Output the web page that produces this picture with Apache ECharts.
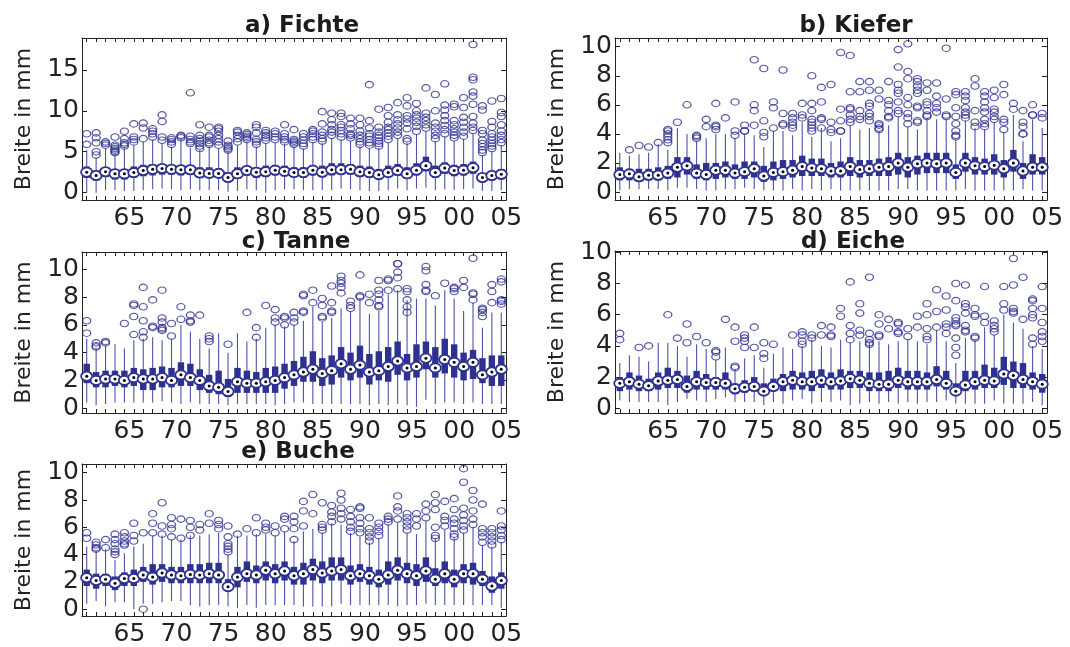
<!DOCTYPE html>
<html>
<head>
<meta charset="utf-8">
<script src="https://cdn.jsdelivr.net/npm/echarts@6/dist/echarts.min.js"></script>
<style>
  html, body { margin: 0; padding: 0; background: #fff; }
  #chart { width: 1070px; height: 647px; }
</style>
</head>
<body>
<div id="chart"></div>
<script>
// years on the x axis
const years = [1961, 1962, 1963, 1964, 1965, 1966, 1967, 1968, 1969, 1970,
  1971, 1972, 1973, 1974, 1975, 1976, 1977, 1978, 1979, 1980,
  1981, 1982, 1983, 1984, 1985, 1986, 1987, 1988, 1989, 1990,
  1991, 1992, 1993, 1994, 1995, 1996, 1997, 1998, 1999, 2000,
  2001, 2002, 2003, 2004, 2005];
const yearLabels = [1965, 1970, 1975, 1980, 1985, 1990, 1995, 2000, 2005];
const fichteTicks = [0, 5, 10, 15];
const otherTicks = [0, 2, 4, 6, 8, 10];

// box rows: [lower whisker, Q1, median, Q3, upper whisker]
const fichteBox = [
  [0.0, 1.8, 2.5, 3.2, 5.2], [0.0, 1.5, 2.1, 2.7, 4.3], [0.3, 1.9, 2.55, 3.1, 5.4], [0.3, 1.6, 2.3, 2.9, 4.7], [0.2, 1.6, 2.3, 2.9, 5.4],
  [0.2, 1.8, 2.45, 3.2, 5.8], [0.3, 2.0, 2.7, 3.4, 6.2], [0.4, 2.1, 2.85, 3.5, 6.5], [0.5, 2.2, 2.95, 3.4, 6.0], [0.4, 2.2, 2.85, 3.4, 5.6],
  [0.3, 2.1, 2.8, 3.4, 6.4], [0.4, 2.2, 2.8, 3.4, 5.5], [0.3, 1.8, 2.4, 3.1, 5.2], [0.3, 1.8, 2.35, 3.1, 5.6], [0.3, 1.8, 2.35, 3.0, 5.4],
  [0.1, 1.3, 1.85, 2.5, 5.0], [0.2, 1.7, 2.3, 3.1, 5.8], [0.4, 2.1, 2.7, 3.3, 6.2], [0.3, 1.8, 2.5, 3.1, 5.6], [0.0, 1.9, 2.55, 3.3, 6.0],
  [0.3, 2.1, 2.75, 3.4, 6.1], [0.4, 2.0, 2.6, 3.3, 6.0], [0.4, 1.9, 2.45, 3.1, 5.6], [0.3, 1.8, 2.45, 3.1, 5.4], [0.3, 2.1, 2.75, 3.4, 6.2],
  [0.3, 1.9, 2.5, 3.3, 6.0], [0.3, 2.1, 2.8, 3.6, 6.6], [0.5, 2.2, 2.8, 3.6, 6.5], [0.4, 2.2, 2.85, 3.5, 6.3], [0.3, 1.9, 2.55, 3.3, 5.6],
  [0.2, 1.8, 2.45, 3.2, 5.4], [0.2, 1.6, 2.2, 2.9, 5.4], [0.3, 1.9, 2.45, 3.3, 6.1], [0.5, 2.1, 2.7, 3.5, 6.6], [0.3, 1.7, 2.3, 3.1, 6.0],
  [0.5, 2.1, 2.75, 3.6, 7.1], [0.6, 2.6, 3.3, 4.4, 7.5], [0.3, 1.8, 2.45, 3.3, 6.3], [0.4, 2.3, 3.0, 3.7, 6.9], [0.3, 2.0, 2.7, 3.4, 6.3],
  [0.4, 2.1, 2.75, 3.5, 6.6], [0.5, 2.3, 3.05, 3.8, 7.2], [0.2, 1.3, 1.85, 2.4, 4.6], [0.2, 1.5, 2.1, 2.7, 5.1], [0.3, 1.6, 2.25, 2.9, 5.8]
];
const fichteOut = [
  [5.9, 7.2], [4.6, 5.0, 6.1, 6.7, 7.3], [5.8, 6.0, 6.2], [4.9, 5.0, 5.2, 5.4, 5.6, 5.8, 6.8], [5.7, 5.9, 6.1, 6.6, 7.5],
  [6.2, 6.5, 6.8, 8.4], [6.6, 7.9, 8.5], [6.8, 7.2, 7.5, 7.8], [6.4, 6.8, 8.7, 9.5], [5.9, 6.2, 6.5, 6.7],
  [6.7, 6.9, 7.0], [6.0, 6.2, 6.5, 6.9, 12.2], [5.4, 5.7, 6.0, 6.3, 6.6, 7.0, 8.3], [5.9, 6.1, 6.4, 6.8, 7.0, 8.0], [5.8, 6.2, 6.6, 7.0, 7.5, 7.8, 8.0],
  [5.2, 5.4, 5.6, 5.8, 6.3], [6.2, 6.6, 7.0, 7.4, 7.6], [6.5, 6.7, 6.9, 7.1, 7.3], [5.9, 6.2, 6.5, 7.3, 8.0, 8.3], [6.4, 6.7, 7.0, 7.3, 7.6],
  [6.5, 6.8, 7.2, 7.5], [6.2, 6.5, 6.8, 7.2, 8.3], [5.9, 6.1, 6.3, 6.5, 7.7], [5.7, 6.0, 6.4, 6.8, 7.2], [6.5, 6.8, 7.2, 7.5, 7.7],
  [6.3, 6.6, 7.0, 7.4, 8.4, 9.9], [7.0, 7.4, 7.7, 8.3, 8.9, 9.7], [6.8, 7.2, 7.6, 8.0, 8.3, 9.3, 9.7], [6.7, 7.0, 7.2, 7.8, 8.4, 9.1], [5.9, 6.2, 6.6, 7.0, 7.5, 8.3, 9.1],
  [5.8, 6.1, 6.5, 6.9, 7.2, 7.9, 8.8, 13.2], [5.7, 6.0, 6.3, 6.7, 7.0, 7.4, 8.0, 10.2], [6.5, 6.9, 7.3, 7.7, 8.0, 8.6, 9.4, 10.4], [7.0, 7.4, 7.9, 8.4, 8.9, 9.5, 11.0], [6.3, 6.6, 7.8, 8.5, 9.0, 9.4, 10.6, 11.6],
  [7.5, 8.1, 8.6, 9.1, 9.5, 10.0, 10.9], [7.9, 8.3, 8.8, 9.2, 9.7, 12.8], [6.6, 7.0, 7.5, 8.0, 8.5, 10.0, 12.0], [7.2, 7.7, 8.2, 8.8, 9.4, 10.1, 10.7, 13.3], [6.7, 7.0, 7.4, 7.8, 8.3, 8.8, 10.5, 10.8],
  [6.9, 7.4, 8.0, 8.6, 9.2, 10.4, 11.6], [7.6, 8.0, 8.5, 9.3, 10.8, 11.8, 12.3, 13.8, 14.1, 18.1], [4.9, 5.2, 5.6, 6.0, 6.4, 7.2, 7.6, 10.1, 10.6], [5.4, 5.7, 6.0, 6.4, 6.8, 7.2, 8.0, 8.7, 11.2], [6.1, 6.5, 7.0, 7.5, 8.3, 9.3, 9.8, 11.5]
];

const kieferBox = [
  [0.1, 0.8, 1.2, 1.7, 2.7], [0.2, 0.8, 1.25, 1.6, 2.5], [0.2, 0.7, 1.05, 1.6, 2.6], [0.2, 0.8, 1.15, 1.6, 2.7], [0.2, 0.8, 1.15, 1.7, 3.3],
  [0.1, 0.9, 1.3, 1.8, 2.9], [0.3, 1.0, 1.7, 2.4, 4.4], [0.3, 1.2, 1.8, 2.4, 4.0], [0.2, 0.9, 1.3, 1.9, 3.5], [0.1, 0.8, 1.2, 2.0, 3.7],
  [0.1, 0.9, 1.5, 2.0, 4.0], [0.2, 1.0, 1.5, 2.1, 4.0], [0.2, 0.9, 1.3, 1.9, 3.7], [0.3, 0.9, 1.4, 2.1, 4.0], [0.2, 1.0, 1.6, 2.1, 3.9],
  [0.1, 0.7, 1.1, 1.8, 3.1], [0.1, 0.8, 1.35, 2.1, 4.2], [0.1, 0.9, 1.4, 2.2, 4.2], [0.2, 1.0, 1.5, 2.2, 3.9], [0.1, 1.1, 1.75, 2.5, 4.8],
  [0.2, 1.1, 1.65, 2.3, 3.8], [0.1, 1.1, 1.6, 2.3, 4.4], [0.2, 1.0, 1.45, 2.0, 3.5], [0.1, 1.0, 1.45, 2.1, 3.7], [0.1, 1.1, 1.75, 2.4, 4.6],
  [0.1, 1.0, 1.55, 2.2, 4.3], [0.1, 1.1, 1.6, 2.2, 4.4], [0.1, 1.1, 1.7, 2.3, 4.2], [0.1, 1.1, 1.75, 2.4, 4.6], [0.2, 1.2, 2.0, 2.7, 5.2],
  [0.2, 1.0, 1.7, 2.4, 4.5], [0.1, 1.2, 1.95, 2.5, 4.3], [0.1, 1.3, 2.0, 2.7, 5.1], [0.1, 1.3, 1.95, 2.7, 5.0], [0.1, 1.3, 2.0, 2.7, 5.0],
  [0.1, 0.9, 1.35, 1.9, 3.6], [0.2, 1.4, 2.0, 2.7, 4.9], [0.1, 1.2, 1.8, 2.4, 4.4], [0.1, 1.2, 1.75, 2.3, 4.3], [0.1, 1.2, 1.85, 2.6, 4.8],
  [0.1, 1.0, 1.6, 2.2, 4.1], [0.1, 1.4, 2.0, 2.9, 5.3], [0.2, 0.9, 1.45, 2.0, 3.5], [0.1, 1.2, 1.7, 2.6, 5.0], [0.1, 1.2, 1.7, 2.4, 4.4]
];
const kieferOut = [
  [], [2.9], [3.2], [3.1], [3.4],
  [3.4, 3.6, 3.8, 4.0, 4.2, 4.3], [4.8], [6.0], [3.7, 3.8, 3.9], [4.5, 5.0],
  [4.3, 4.5, 4.6, 6.1], [5.1], [3.9, 4.2, 6.2], [4.2, 4.2, 4.6], [4.6, 5.6, 6.0, 9.1],
  [3.8, 4.1, 4.9, 8.5], [4.4, 5.8, 6.2], [4.6, 4.7, 5.4, 8.4], [4.4, 4.6, 4.8, 5.1, 5.4], [5.1, 5.3, 6.1],
  [4.2, 4.4, 4.6, 4.8, 5.0, 5.6, 6.1, 8.0], [4.4, 5.0, 5.1, 6.2, 7.2], [4.1, 4.3, 4.8, 7.4], [4.2, 4.2, 4.9, 5.7, 9.6], [4.8, 5.0, 5.3, 5.7, 5.8, 6.9, 9.4],
  [5.0, 5.2, 5.6, 6.9, 7.6], [4.9, 5.2, 5.4, 5.9, 6.1, 7.0, 7.6], [4.3, 4.4, 4.6, 4.7, 6.4, 7.0], [5.1, 5.2, 5.6, 6.0, 6.3, 7.6], [5.4, 5.6, 6.2, 6.8, 7.0, 7.4, 8.6, 9.8],
  [4.7, 5.1, 5.4, 6.0, 6.5, 7.8, 8.3, 10.2], [4.8, 4.9, 5.8, 5.9, 6.8, 7.0, 7.3, 7.6, 7.8], [5.2, 5.3, 5.6, 6.0, 6.2, 7.0, 7.5], [5.5, 5.8, 6.1, 6.6, 7.5], [5.2, 5.3, 6.4, 9.9],
  [3.8, 3.9, 4.2, 4.7, 5.2, 5.8, 6.7, 6.9], [5.1, 5.3, 5.5, 5.8, 6.3, 6.6, 6.9], [4.5, 4.8, 5.6, 7.3, 7.8], [4.5, 4.7, 5.0, 5.5, 5.8, 6.2, 6.6, 6.9], [5.0, 5.2, 5.5, 5.7, 6.5, 7.0],
  [4.3, 4.8, 5.0, 6.7, 7.4], [5.7, 6.1], [4.0, 4.0, 4.5, 4.8, 5.6], [5.3, 5.3, 6.0], [5.1, 5.4]
];

const tanneBox = [
  [0.4, 1.8, 2.3, 3.2, 5.0], [0.2, 1.5, 2.0, 2.6, 4.3], [0.3, 1.5, 2.1, 2.7, 4.5], [0.4, 1.6, 2.1, 2.7, 4.6], [0.4, 1.5, 2.0, 2.7, 4.3],
  [0.4, 1.6, 2.2, 2.9, 4.9], [0.4, 1.3, 2.1, 2.8, 5.0], [0.4, 1.3, 2.1, 2.9, 5.1], [0.5, 1.5, 2.2, 3.0, 4.9], [0.4, 1.5, 2.0, 2.9, 5.0],
  [0.3, 1.6, 2.4, 3.3, 6.0], [0.4, 1.6, 2.2, 3.2, 5.5], [0.3, 1.3, 2.0, 2.8, 5.0], [0.3, 1.1, 1.6, 2.4, 4.3], [0.3, 1.0, 1.5, 2.7, 5.4],
  [0.2, 0.8, 1.2, 2.1, 4.0], [0.3, 1.1, 1.9, 2.9, 5.4], [0.3, 1.1, 1.8, 2.7, 4.8], [0.3, 1.1, 1.8, 2.6, 5.0], [0.3, 1.1, 1.9, 2.9, 5.8],
  [0.2, 1.1, 2.0, 3.0, 6.0], [0.3, 1.4, 2.2, 3.2, 5.9], [0.4, 1.6, 2.4, 3.4, 6.0], [0.4, 1.9, 2.6, 3.7, 6.3], [0.3, 1.9, 2.8, 4.1, 7.3],
  [0.3, 1.6, 2.5, 3.6, 6.2], [0.3, 1.7, 2.7, 3.8, 6.5], [0.3, 2.2, 3.2, 4.4, 7.2], [0.3, 2.0, 2.8, 4.0, 7.0], [0.3, 2.2, 3.1, 4.5, 7.9],
  [0.2, 1.7, 2.6, 3.9, 6.8], [0.3, 2.0, 2.7, 4.1, 7.0], [0.2, 1.9, 3.0, 4.4, 8.2], [0.3, 2.4, 3.4, 4.8, 8.5], [0.2, 2.0, 2.9, 3.9, 7.8],
  [0.1, 2.2, 3.0, 4.6, 7.9], [0.6, 2.8, 3.6, 4.8, 7.9], [0.3, 2.2, 2.9, 4.4, 7.4], [0.4, 2.5, 3.5, 5.0, 8.5], [0.4, 2.2, 3.3, 4.6, 7.9],
  [0.3, 2.0, 3.0, 4.0, 7.0], [0.4, 2.1, 3.3, 4.2, 7.6], [0.3, 1.8, 2.4, 3.6, 5.8], [0.3, 1.6, 2.6, 3.8, 6.9], [0.3, 1.6, 2.8, 3.8, 6.9]
];
const tanneOut = [
  [5.4, 6.3], [4.4, 4.5, 4.7], [4.7, 4.8], [], [6.1],
  [5.3, 6.6, 7.4, 7.5], [5.1, 5.5, 6.3, 7.3, 8.7], [5.8, 5.9, 7.8], [5.6, 5.7, 5.8, 6.2, 6.5, 8.5], [5.2, 6.1],
  [6.4, 7.3], [6.2, 6.3, 6.7], [6.7], [4.8, 5.0, 5.2], [],
  [4.6], [], [6.9], [5.1, 5.8], [7.4],
  [6.2, 6.5, 7.1], [6.0, 6.5, 6.6], [6.2, 6.5, 6.9], [6.9, 7.0, 8.1, 8.2], [7.6, 8.5],
  [6.5, 6.6, 7.4, 7.9], [6.9, 7.0, 7.6, 8.8], [8.3, 8.7, 9.0, 9.2, 9.5], [7.2, 7.4, 7.7], [8.0, 8.1, 9.6],
  [7.6, 8.2], [7.3, 7.4, 7.8, 8.2, 8.5, 9.2], [8.5, 9.2, 9.3], [8.6, 9.4, 9.8, 10.4, 10.4], [6.9, 7.3, 7.8, 8.4, 8.6],
  [], [8.4, 8.5, 8.9, 9.9, 10.2], [8.1], [9.0], [8.4, 8.6, 8.7],
  [8.7, 9.2], [7.8, 8.2, 8.3, 10.8], [6.6, 6.9, 7.1, 7.2], [7.6, 8.4, 8.9], [7.5, 7.7, 7.8, 9.1, 9.3]
];

const eicheBox = [
  [0.5, 1.1, 1.6, 2.0, 2.9], [0.4, 1.2, 1.7, 2.3, 3.4], [0.4, 1.1, 1.55, 2.1, 3.3], [0.4, 1.1, 1.45, 1.9, 3.0], [0.4, 1.2, 1.75, 2.3, 4.2],
  [0.2, 1.3, 1.8, 2.6, 4.2], [0.4, 1.3, 1.85, 2.4, 4.0], [0.6, 1.0, 1.4, 2.1, 3.3], [0.5, 1.2, 1.7, 2.4, 4.1], [0.4, 1.2, 1.65, 2.2, 3.8],
  [0.6, 1.2, 1.65, 2.0, 3.1], [0.7, 1.2, 1.6, 2.3, 3.9], [0.4, 0.9, 1.25, 1.6, 2.5], [0.4, 1.0, 1.35, 1.8, 3.2], [0.4, 1.1, 1.4, 2.0, 3.4],
  [0.2, 0.9, 1.1, 1.6, 2.6], [0.4, 1.1, 1.4, 1.9, 3.5], [0.3, 1.1, 1.7, 2.2, 3.9], [0.5, 1.2, 1.8, 2.4, 3.8], [0.6, 1.2, 1.7, 2.3, 4.0],
  [0.3, 1.1, 1.7, 2.4, 4.4], [0.4, 1.3, 1.8, 2.5, 4.0], [0.4, 1.2, 1.7, 2.3, 3.9], [0.5, 1.2, 1.75, 2.5, 4.4], [0.2, 1.3, 1.9, 2.4, 4.2],
  [0.3, 1.3, 1.8, 2.4, 4.3], [0.4, 1.1, 1.6, 2.3, 4.2], [0.3, 1.1, 1.55, 2.3, 4.3], [0.4, 1.1, 1.55, 2.4, 4.1], [0.3, 1.3, 1.8, 2.6, 4.3],
  [0.4, 1.2, 1.7, 2.4, 4.4], [0.3, 1.2, 1.7, 2.4, 4.3], [0.4, 1.2, 1.7, 2.3, 4.1], [0.4, 1.4, 1.85, 2.7, 5.0], [0.5, 1.2, 1.6, 2.4, 4.3],
  [0.3, 0.8, 1.1, 1.6, 2.9], [0.3, 1.1, 1.5, 2.4, 4.5], [0.3, 1.2, 1.7, 2.4, 4.4], [0.3, 1.3, 1.8, 2.8, 5.2], [0.5, 1.3, 1.75, 2.6, 4.7],
  [0.3, 1.5, 2.2, 3.3, 6.0], [0.3, 1.3, 2.1, 3.0, 5.5], [0.3, 1.3, 1.85, 2.9, 5.1], [0.4, 1.2, 1.7, 2.3, 4.0], [0.2, 1.0, 1.55, 2.2, 3.8]
];
const eicheOut = [
  [4.4, 4.8], [], [3.9], [4.0], [],
  [6.0], [4.5], [4.2, 5.4], [4.6], [4.2],
  [3.3, 3.6, 3.7], [5.7], [2.6, 2.7, 4.3, 5.2], [3.9, 4.3, 4.5, 4.7], [3.9, 5.2],
  [3.2, 3.5, 4.2], [4.1], [], [4.7], [4.1, 4.3, 4.7, 4.9],
  [4.5, 4.7], [4.7, 5.3], [4.6, 4.7, 5.2], [5.9, 6.4], [4.4, 4.8, 5.3, 8.1],
  [4.7, 5.0, 6.1, 6.7], [4.1, 4.2, 4.4, 4.8, 8.4], [4.6, 4.7, 5.4, 6.0], [5.1, 5.7], [4.8, 4.9, 5.4, 5.5],
  [4.6, 5.1], [5.2, 5.9], [4.4, 4.6, 5.1, 6.0, 6.7], [5.2, 6.2, 7.6], [4.8, 5.2, 5.4, 6.3, 7.2],
  [3.4, 3.9, 4.5, 5.3, 5.4, 5.6, 5.8, 6.9, 8.0], [4.9, 5.0, 5.3, 6.1, 6.5, 6.7, 7.9], [4.5, 4.6, 5.9, 6.0, 6.4], [5.5, 5.9, 7.8], [4.9, 5.1, 5.3, 5.6],
  [6.3, 6.7, 7.8], [6.1, 6.2, 6.4, 7.9, 9.6], [5.7, 8.4], [4.1, 4.5, 5.8, 6.0, 6.4, 6.9, 7.0], [4.3, 4.6, 4.9, 5.5, 6.4, 7.8]
];

const bucheBox = [
  [0.4, 1.7, 2.3, 2.9, 4.6], [0.6, 1.5, 2.1, 2.6, 4.3], [0.2, 1.7, 2.2, 2.6, 4.4], [0.5, 1.4, 1.9, 2.4, 3.6], [0.5, 1.7, 2.25, 2.7, 4.1],
  [0.0, 1.7, 2.25, 2.9, 4.6], [0.4, 2.0, 2.5, 3.1, 4.8], [0.4, 1.8, 2.35, 3.3, 5.4], [0.5, 2.0, 2.65, 3.3, 5.4], [0.6, 1.9, 2.5, 3.1, 5.1],
  [0.6, 1.9, 2.45, 3.1, 5.1], [0.3, 1.9, 2.55, 3.3, 5.4], [0.2, 1.9, 2.5, 3.3, 5.4], [0.3, 1.9, 2.6, 3.4, 5.5], [0.3, 1.9, 2.5, 3.4, 5.6],
  [0.2, 1.3, 1.65, 2.2, 4.0], [0.1, 1.6, 2.35, 3.1, 5.4], [0.3, 2.0, 2.6, 3.5, 5.4], [0.1, 1.9, 2.5, 3.2, 5.5], [0.3, 2.1, 2.85, 3.5, 5.5],
  [0.3, 1.9, 2.6, 3.3, 5.4], [0.3, 2.1, 2.8, 3.5, 5.7], [0.3, 1.8, 2.45, 3.1, 5.0], [0.2, 1.8, 2.6, 3.4, 5.7], [0.2, 2.1, 2.9, 3.7, 5.9],
  [0.2, 1.9, 2.65, 3.5, 5.6], [0.2, 2.1, 2.8, 3.8, 6.3], [0.4, 2.1, 2.9, 3.8, 6.2], [0.3, 1.8, 2.45, 3.2, 5.6], [0.3, 2.0, 2.6, 3.3, 5.3],
  [0.3, 1.8, 2.45, 3.1, 4.9], [0.3, 1.6, 2.2, 2.9, 5.2], [0.3, 1.8, 2.5, 3.5, 6.2], [0.2, 2.1, 2.85, 3.8, 6.3], [0.3, 1.9, 2.6, 3.4, 5.6],
  [0.3, 1.7, 2.45, 3.3, 5.5], [0.4, 2.0, 2.8, 3.8, 6.5], [0.3, 1.7, 2.2, 3.0, 5.2], [0.3, 1.9, 2.6, 3.5, 5.8], [0.3, 1.6, 2.2, 2.9, 5.2],
  [0.3, 1.9, 2.6, 3.3, 5.6], [0.3, 1.8, 2.6, 3.4, 6.0], [0.3, 1.7, 2.2, 2.8, 4.7], [0.3, 1.2, 1.7, 2.4, 4.6], [0.1, 1.5, 2.1, 2.7, 4.9]
];
const bucheOut = [
  [5.2, 5.6], [4.4, 4.5, 4.7, 4.9], [4.5, 5.1], [4.0, 4.2, 4.4, 4.8, 5.1, 5.5], [4.7, 4.8, 5.0, 5.3, 5.6],
  [5.0, 5.4, 6.3], [0.0, 5.6], [5.6, 6.3, 7.0], [5.5, 6.1, 7.8], [5.3, 5.9, 6.2, 6.7],
  [5.2, 6.6], [5.4, 6.0, 6.5], [5.8, 6.2], [6.3, 7.0], [5.9, 6.2, 6.5],
  [4.2, 4.4, 4.6, 4.8, 5.3, 6.1], [5.5], [5.9], [5.6, 6.7], [5.8, 6.0, 6.3],
  [5.6, 6.1], [5.9, 6.6, 6.8], [5.1, 5.9, 6.4, 6.8], [6.1, 7.2, 7.9], [7.0, 8.4],
  [5.8, 6.0, 6.2, 7.8], [6.4, 6.8, 7.1, 7.6], [6.6, 7.0, 7.4, 8.0, 8.5], [5.7, 6.0, 6.4, 6.8, 7.3], [5.6, 5.9, 6.3, 6.7, 7.4, 7.5],
  [5.0, 5.3, 5.6, 5.9, 6.7], [5.4, 5.7, 6.0, 6.3], [6.4, 6.6, 6.8], [6.6, 7.2, 7.5, 8.3], [5.8, 6.1, 6.4, 6.7, 7.0],
  [6.1, 6.6, 7.0], [6.7, 7.2, 7.7], [5.2, 5.4, 6.0, 7.3, 7.8, 8.4], [6.1, 6.5, 6.8, 7.9], [5.3, 5.5, 5.9, 6.3, 6.6, 7.3, 8.1],
  [5.8, 6.1, 6.5, 6.9, 7.4, 9.3, 10.3], [6.2, 6.6, 7.2, 8.0, 8.7], [4.9, 5.3, 5.6, 5.9, 7.7], [4.7, 5.0, 5.3, 5.6, 5.9], [5.1, 5.4, 5.8, 6.1, 7.2]
];

const navy = "#2d3190";
const whisker = "#4d52aa";
const font = "DejaVu Sans";

const panels = [
  { title: "a) Fichte", box: fichteBox, out: fichteOut, ticks: fichteTicks, min: -0.9, max: 18.9,
    grid: { left: 82, top: 38, width: 424, height: 162 }, titleX: 297, titleY: 10 },
  { title: "b) Kiefer", box: kieferBox, out: kieferOut, ticks: otherTicks, min: -0.55, max: 10.6,
    grid: { left: 615, top: 38, width: 432, height: 162 }, titleX: 851, titleY: 10 },
  { title: "c) Tanne", box: tanneBox, out: tanneOut, ticks: otherTicks, min: -0.35, max: 11.25,
    grid: { left: 82, top: 252, width: 424, height: 161 }, titleX: 291, titleY: 226 },
  { title: "d) Eiche", box: eicheBox, out: eicheOut, ticks: otherTicks, min: -0.3, max: 10.08,
    grid: { left: 615, top: 251, width: 432, height: 162 }, titleX: 848, titleY: 226 },
  { title: "e) Buche", box: bucheBox, out: bucheOut, ticks: otherTicks, min: -0.5, max: 10.64,
    grid: { left: 82, top: 464, width: 424, height: 161 }, titleX: 293, titleY: 436 }
];

function renderBox(params, api) {
  const x = api.coord([api.value(0), 0])[0];
  const y = (i) => api.coord([api.value(0), api.value(i)])[1];
  const lo = y(1), q1 = y(2), med = y(3), q3 = y(4), hi = y(5);
  return {
    type: "group",
    children: [
      { type: "line", shape: { x1: x, y1: lo, x2: x, y2: hi }, style: { stroke: whisker, lineWidth: 1.1 } },
      { type: "rect", shape: { x: x - 3.2, y: q3, width: 6.4, height: q1 - q3 }, style: { fill: navy } },
      { type: "ellipse", shape: { cx: x, cy: med, rx: 5.6, ry: 4.6 }, style: { fill: "#fff", stroke: navy, lineWidth: 1.8 } },
      { type: "circle", shape: { cx: x, cy: med, r: 1.5 }, style: { fill: "#000" } }
    ]
  };
}

const grids = [], xAxes = [], yAxes = [], series = [], titles = [];
panels.forEach((p, i) => {
  grids.push(p.grid);
  titles.push({
    text: p.title, left: p.titleX, top: p.titleY, textAlign: "center",
    textStyle: { fontFamily: font, fontSize: 23, fontWeight: "bold", color: "#1c1c1c" }
  });
  const xBase = {
    type: "value", gridIndex: i, min: 1960.5, max: 2005.5,
    splitLine: { show: false },
    axisLine: { show: true, onZero: false, lineStyle: { color: "#222", width: 1 } },
    axisTick: { show: true, inside: true, length: 4, customValues: years, lineStyle: { color: "#222" } }
  };
  xAxes.push(Object.assign({}, xBase, {
    position: "bottom",
    axisLabel: {
      customValues: yearLabels, margin: 6, fontFamily: font, fontSize: 25, color: "#222",
      padding: [0, 0, 0, 10],
      formatter: (v) => String(v % 100).padStart(2, "0")
    }
  }));
  xAxes.push(Object.assign({}, xBase, { position: "top", axisLabel: { show: false } }));
  const yBase = {
    type: "value", gridIndex: i, min: p.min, max: p.max,
    splitLine: { show: false },
    axisLine: { show: true, onZero: false, lineStyle: { color: "#222", width: 1 } },
    axisTick: { show: true, inside: true, length: 5, customValues: p.ticks, lineStyle: { color: "#222" } }
  };
  yAxes.push(Object.assign({}, yBase, {
    position: "left",
    name: "Breite in mm", nameLocation: "middle", nameGap: 47, nameRotate: 90,
    nameTextStyle: { fontFamily: font, fontSize: 22, color: "#222" },
    axisLabel: { customValues: p.ticks, margin: 3, fontFamily: font, fontSize: 25, color: "#222" }
  }));
  yAxes.push(Object.assign({}, yBase, { position: "right", axisLabel: { show: false } }));

  const outPts = [];
  p.out.forEach((vals, k) => vals.forEach((v) => outPts.push([years[k], v])));
  series.push({
    type: "scatter", xAxisIndex: 2 * i, yAxisIndex: 2 * i, data: outPts,
    symbol: "circle", symbolSize: [8, 6.5], silent: true,
    itemStyle: { color: "rgba(0,0,0,0)", borderColor: navy, borderWidth: 1.2 }
  });
  series.push({
    type: "custom", xAxisIndex: 2 * i, yAxisIndex: 2 * i, silent: true,
    data: years.map((y, k) => [y].concat(p.box[k])),
    encode: { x: 0, y: [1, 2, 3, 4, 5] },
    renderItem: renderBox
  });
});

const chart = echarts.init(document.getElementById("chart"));
chart.setOption({
  animation: false,
  backgroundColor: "#fff",
  title: titles,
  grid: grids,
  xAxis: xAxes,
  yAxis: yAxes,
  series: series
});
</script>
</body>
</html>
